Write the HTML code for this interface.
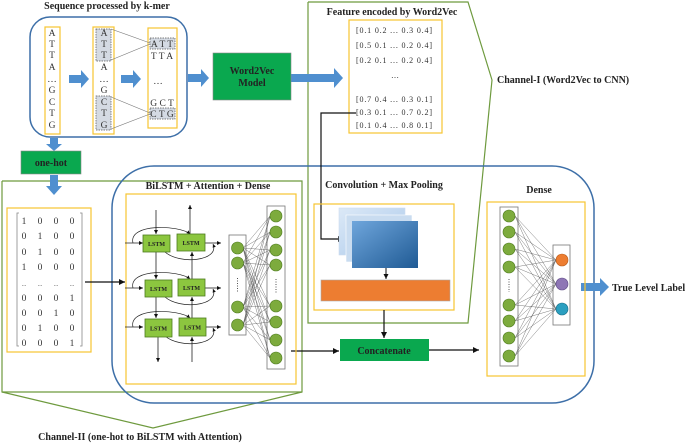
<!DOCTYPE html>
<html><head><meta charset="utf-8"><style>
html,body{margin:0;padding:0;background:#fff;width:685px;height:443px;overflow:hidden}
svg{display:block;font-family:"Liberation Serif",serif}
.b{font-weight:bold;font-size:10px;fill:#222}
.s{font-size:9.5px;fill:#333}
.m{font-size:8px;fill:#333}
</style></head><body>
<svg id="s" width="685" height="443" viewBox="0 0 685 443" xmlns="http://www.w3.org/2000/svg">
<defs>
<marker id="ar" markerWidth="6" markerHeight="6" refX="5" refY="3" orient="auto"><path d="M0,0.5 L5,3 L0,5.5z" fill="#111"/></marker>
<linearGradient id="g1" x1="0" y1="0" x2="1" y2="1"><stop offset="0" stop-color="#dce9f7"/><stop offset="1" stop-color="#a9c8ea"/></linearGradient>
<linearGradient id="g2" x1="0" y1="0" x2="1" y2="1"><stop offset="0" stop-color="#6fa6dc"/><stop offset="1" stop-color="#1f5a94"/></linearGradient>
</defs>
<polyline points="308,2 468,2 492,80 468,323 308,323 308,2" fill="none" stroke="#6e9a3e" stroke-width="1.2"/>
<text x="497" y="83" class="b">Channel-I (Word2Vec to CNN)</text>
<polyline points="2,181 302,181 302,392 153,428 2,392 2,181" fill="none" stroke="#6e9a3e" stroke-width="1.2"/>
<line x1="2" y1="392" x2="302" y2="392" stroke="#6e9a3e" stroke-width="1.2"/>
<text x="140" y="440" class="b" text-anchor="middle">Channel-II (one-hot to BiLSTM with Attention)</text>
<rect x="112" y="166" width="482" height="237" rx="42" fill="none" stroke="#3d6fa8" stroke-width="1.5"/>
<text x="107" y="9" class="b" text-anchor="middle">Sequence processed by k-mer</text>
<rect x="30" y="17" width="157" height="120" rx="20" fill="#fff" stroke="#3d6fa8" stroke-width="1.5"/>
<rect x="45" y="27" width="15" height="107" fill="none" stroke="#f7c531" stroke-width="1.2"/>
<rect x="93" y="27" width="21" height="107" fill="none" stroke="#f7c531" stroke-width="1.2"/>
<rect x="148" y="28" width="29" height="100" fill="none" stroke="#f7c531" stroke-width="1.2"/>
<rect x="96" y="29" width="15" height="32" fill="#d4dae3" stroke="#555" stroke-dasharray="1.5,1" stroke-width="0.7"/>
<rect x="96" y="96" width="15" height="34" fill="#d4dae3" stroke="#555" stroke-dasharray="1.5,1" stroke-width="0.7"/>
<rect x="150" y="38" width="25" height="11" fill="#d4dae3" stroke="#555" stroke-dasharray="1.5,1" stroke-width="0.7"/>
<rect x="150" y="108" width="25" height="11" fill="#d4dae3" stroke="#555" stroke-dasharray="1.5,1" stroke-width="0.7"/>
<g stroke="#777" stroke-width="0.6"><line x1="111" y1="29" x2="150" y2="43"/><line x1="111" y1="60" x2="150" y2="44"/><line x1="111" y1="97" x2="150" y2="113"/><line x1="111" y1="129" x2="150" y2="114"/></g>
<g class="s" text-anchor="middle">
<text x="52" y="36">A</text><text x="52" y="47">T</text><text x="52" y="58">T</text><text x="52" y="70">A</text><text x="52" y="82">…</text><text x="52" y="93">G</text><text x="52" y="105">C</text><text x="52" y="116">T</text><text x="52" y="128">G</text>
<text x="104" y="36">A</text><text x="104" y="47">T</text><text x="104" y="58">T</text><text x="104" y="70">A</text><text x="104" y="82">…</text><text x="104" y="93">G</text><text x="104" y="105">C</text><text x="104" y="116">T</text><text x="104" y="128">G</text>
<text x="162" y="47">A T T</text><text x="162" y="59">T T A</text><text x="158" y="84">…</text><text x="162" y="106">G C T</text><text x="162" y="117">C T G</text>
</g>
<g fill="#4f8fcf">
<path d="M69,75 H81 V70 L89,79 L81,88 V83 H69z"/>
<path d="M121,75 H133 V70 L141,79 L133,88 V83 H121z"/>
<path d="M188,74 H201 V69 L209,78 L201,87 V82 H188z"/>
<path d="M291,74 H334 V68 L343,78 L334,88 V82 H291z"/>
<path d="M50,138 H58 V144 H62 L54,151 L46,144 H50z"/>
<path d="M50,175 H58 V186 H62 L54,195 L46,186 H50z"/>
<path d="M581,283 H600 V278 L609,287 L600,296 V291 H581z"/>
</g>
<rect x="213" y="53" width="78" height="47" fill="#0aa84f" stroke="#888" stroke-width="0.6"/>
<text x="252" y="74" class="b" text-anchor="middle">Word2Vec</text>
<text x="252" y="86" class="b" text-anchor="middle">Model</text>
<rect x="21" y="151" width="60" height="23" fill="#0aa84f" stroke="#888" stroke-width="0.6"/>
<text x="51" y="166" class="b" text-anchor="middle">one-hot</text>
<text x="392" y="15" class="b" text-anchor="middle">Feature encoded by Word2Vec</text>
<rect x="349" y="20" width="93" height="113" fill="none" stroke="#f7c531" stroke-width="1.2"/>
<g class="m">
<text x="356" y="33" textLength="76" lengthAdjust="spacing">[0.1 0.2 ... 0.3 0.4]</text>
<text x="356" y="48" textLength="76" lengthAdjust="spacing">[0.5 0.1 ... 0.2 0.4]</text>
<text x="356" y="63" textLength="76" lengthAdjust="spacing">[0.2 0.1 ... 0.2 0.4]</text>
<text x="391" y="78">…</text>
<text x="356" y="102" textLength="76" lengthAdjust="spacing">[0.7 0.4 ... 0.3 0.1]</text>
<text x="356" y="115" textLength="76" lengthAdjust="spacing">[0.3 0.1 ... 0.7 0.2]</text>
<text x="356" y="128" textLength="76" lengthAdjust="spacing">[0.1 0.4 ... 0.8 0.1]</text>
</g>
<polyline points="356,113 321,113 321,239 344,239" fill="none" stroke="#111" stroke-width="1.2" marker-end="url(#ar)"/>
<text x="384" y="188" class="b" text-anchor="middle">Convolution + Max Pooling</text>
<rect x="314" y="204" width="140" height="106" fill="none" stroke="#f7c531" stroke-width="1.2"/>
<rect x="339" y="208" width="66" height="47" fill="url(#g1)" stroke="#cde" stroke-width="0.6"/>
<rect x="346" y="215" width="66" height="47" fill="#c9dcf0" stroke="#fff" stroke-width="0.6"/>
<rect x="352" y="221" width="66" height="47" fill="url(#g2)"/>
<line x1="386" y1="268" x2="386" y2="279" stroke="#111" marker-end="url(#ar)"/>
<rect x="321" y="280" width="129" height="21" fill="#ed7d31" stroke="#aaa" stroke-width="0.6"/>
<line x1="384" y1="310" x2="384" y2="338" stroke="#111" stroke-width="1.2" marker-end="url(#ar)"/>
<rect x="340" y="339" width="89" height="22" fill="#0aa84f"/>
<text x="384" y="354" class="b" text-anchor="middle">Concatenate</text>
<line x1="429" y1="350" x2="479" y2="350" stroke="#111" stroke-width="1.2" marker-end="url(#ar)"/>
<line x1="291" y1="351" x2="339" y2="351" stroke="#111" stroke-width="1.2" marker-end="url(#ar)"/>
<rect x="7" y="208" width="84" height="144" fill="none" stroke="#f7c531" stroke-width="1.2"/>
<path d="M19,213 h-2 v133 h2 M80,213 h2 v133 h-2" fill="none" stroke="#888" stroke-width="0.8"/>
<g class="s" id="oh"></g>
<line x1="85" y1="282" x2="125" y2="282" stroke="#111" stroke-width="1.2" marker-end="url(#ar)"/>
<text x="208" y="189" class="b" text-anchor="middle">BiLSTM + Attention + Dense</text>
<rect x="126" y="194" width="170" height="190" fill="none" stroke="#f7c531" stroke-width="1.2"/>
<g id="lstm"></g>
<rect x="229" y="235" width="17" height="100" fill="#fff" stroke="#777" stroke-width="0.8"/>
<rect x="267" y="206" width="18" height="163" fill="#fff" stroke="#777" stroke-width="0.8"/>
<g id="nn1" stroke="#444" stroke-width="0.35"></g>
<text x="539" y="193" class="b" text-anchor="middle">Dense</text>
<rect x="487" y="202" width="98" height="174" fill="none" stroke="#f7c531" stroke-width="1.2"/>
<rect x="500" y="207" width="18" height="159" fill="#fff" stroke="#777" stroke-width="0.8"/>
<rect x="553" y="245" width="17" height="80" fill="#fff" stroke="#777" stroke-width="0.8"/>
<g id="nn2" stroke="#444" stroke-width="0.35"></g>
<circle cx="562" cy="260" r="6" fill="#ed7d31" stroke="#b55a1a" stroke-width="0.6"/>
<circle cx="562" cy="284" r="6" fill="#8e76b5" stroke="#5f4b85" stroke-width="0.6"/>
<circle cx="562" cy="309" r="6" fill="#2b9fc0" stroke="#1a6e86" stroke-width="0.6"/>
<text x="612" y="291" class="b">True Level Label</text>
</svg>
<script>
var NS="http://www.w3.org/2000/svg",S=document.getElementById("s");
function el(p,t,a,txt){var e=document.createElementNS(NS,t);for(var k in a)e.setAttribute(k,a[k]);if(txt)e.textContent=txt;p.appendChild(e);return e;}
var oh=document.getElementById("oh");
var M=[[1,0,0,0],[0,1,0,0],[0,1,0,0],[1,0,0,0],["...","...","...","..."],[0,0,0,1],[0,0,1,0],[0,1,0,0],[0,0,0,1]];
var ys=[221,236,252,267,283,298,313,328,343];
M.forEach(function(r,i){r.forEach(function(v,j){el(oh,"text",{x:24+j*16,y:ys[i]+3,"text-anchor":"middle","font-size":v==="..."?"6":"9.5"},String(v));});});
var L=document.getElementById("lstm");
var boxes=[[143,235,27,17],[177,234,28,17],[145,280,27,17],[178,279,27,17],[145,319,27,18],[179,318,27,18]];
function line(x1,y1,x2,y2,arr){var a={x1:x1,y1:y1,x2:x2,y2:y2,stroke:"#222","stroke-width":"0.8"};if(arr)a["marker-end"]="url(#ar)";el(L,"line",a);}
line(156,210,156,234,1);line(156,252,156,279,1);line(156,297,156,318,1);line(158,337,158,362,1);
line(192,362,192,337,1);line(192,318,192,297,1);line(192,279,192,252,1);line(190,234,190,205,1);
[243,288,327].forEach(function(y){line(125,y,143,y,1);line(205,y,221,y,1);
el(L,"path",{d:"M133,"+y+" C128,"+(y-20)+" 180,"+(y-18)+" 190,"+(y-9),fill:"none",stroke:"#222","stroke-width":"0.7","marker-end":"url(#ar)"});
el(L,"path",{d:"M165,"+(y+9)+" C180,"+(y+22)+" 220,"+(y+18)+" 213,"+(y+1),fill:"none",stroke:"#222","stroke-width":"0.7","marker-end":"url(#ar)"});});
boxes.forEach(function(b){el(L,"rect",{x:b[0],y:b[1],width:b[2],height:b[3],fill:"#8cc63f",stroke:"#4d7a1e","stroke-width":"0.8"});
el(L,"text",{x:b[0]+b[2]/2,y:b[1]+b[3]/2+2.5,"text-anchor":"middle","font-size":"6","font-weight":"bold",fill:"#222"},"LSTM");});
function nn(g,xa,ya,xb,yb){var G=document.getElementById(g);ya.forEach(function(a){yb.forEach(function(b){el(G,"line",{x1:xa,y1:a,x2:xb,y2:b});});});}
var c1=[248,263,307,325],c2=[216,232,250,265,306,322,340,358];
nn("nn1",243,c1,270,c2);
var d1=[216,232,249,267,305,321,338,356],d2=[260,284,309];
nn("nn2",515,d1,556,d2);
function circ(cx,cy,r){el(S,"circle",{cx:cx,cy:cy,r:r,fill:"#7dab3d",stroke:"#4d7a1e","stroke-width":"0.6"});}
c1.forEach(function(y){circ(237.5,y,6)});c2.forEach(function(y){circ(276,y,6)});d1.forEach(function(y){circ(509,y,6)});
el(S,"line",{x1:237.5,y1:278,x2:237.5,y2:292,stroke:"#555","stroke-dasharray":"1,1.5"});
el(S,"line",{x1:276,y1:279,x2:276,y2:293,stroke:"#555","stroke-dasharray":"1,1.5"});
el(S,"line",{x1:509,y1:279,x2:509,y2:292,stroke:"#555","stroke-dasharray":"1,1.5"});
</script>
</body></html>
